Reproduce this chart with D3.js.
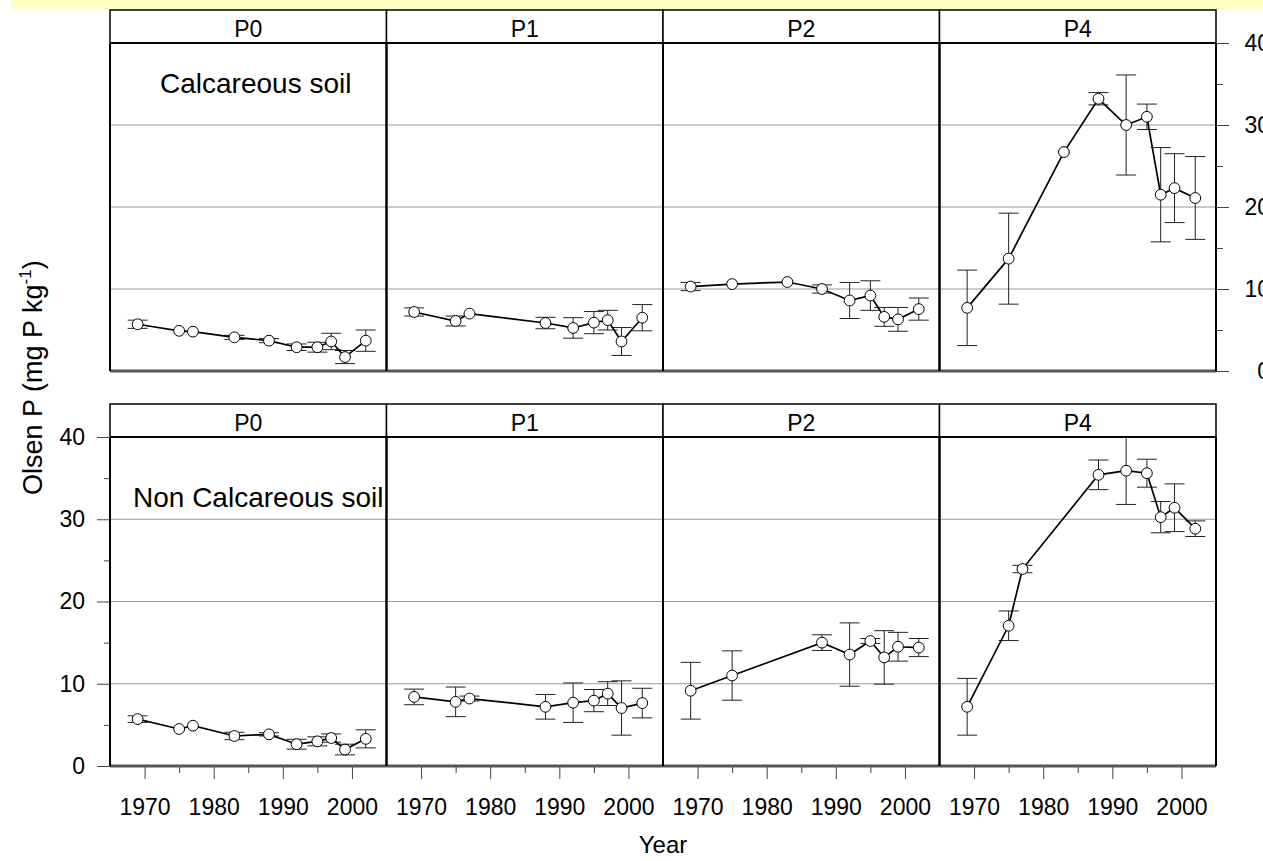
<!DOCTYPE html>
<html>
<head>
<meta charset="utf-8">
<script src="https://cdn.jsdelivr.net/npm/d3@7"></script>
<style>
  html, body { margin: 0; padding: 0; background: #fff; }
  svg { display: block; font-family: "Liberation Sans", Arial, sans-serif; }
</style>
</head>
<body>
<svg id="chart" width="1263" height="861"></svg>
<script>
// Olsen P over time, by P treatment and soil type
const soils = ["Calcareous soil", "Non Calcareous soil"];
const treatments = ["P0", "P1", "P2", "P4"];
const yTicks = [0, 10, 20, 30, 40];
const yMinorTicks = [5, 15, 25, 35];
const xTicks = [1970, 1980, 1990, 2000];
const xMinorTicks = [1975, 1985, 1995];

// Calcareous soil
const calcP0Years = [1969, 1975, 1977, 1983, 1988, 1992, 1995, 1997, 1999, 2002];
const calcP0Mean  = [5.7, 4.9, 4.8, 4.1, 3.7, 2.9, 2.9, 3.6, 1.7, 3.7];
const calcP0Err   = [0.5, 0, 0, 0.25, 0.25, 0.4, 0.6, 1.0, 0.8, 1.3];

const calcP1Years = [1969, 1975, 1977, 1988, 1992, 1995, 1997, 1999, 2002];
const calcP1Mean  = [7.2, 6.1, 7.0, 5.85, 5.25, 5.9, 6.2, 3.6, 6.5];
const calcP1Err   = [0.5, 0.6, 0, 0.7, 1.25, 1.35, 1.2, 1.7, 1.6];

const calcP2Years = [1969, 1975, 1983, 1988, 1992, 1995, 1997, 1999, 2002];
const calcP2Mean  = [10.3, 10.6, 10.85, 10.0, 8.6, 9.2, 6.6, 6.3, 7.55];
const calcP2Err   = [0.5, 0, 0, 0.5, 2.2, 1.8, 1.15, 1.45, 1.35];

const calcP4Years = [1969, 1975, 1983, 1988, 1992, 1995, 1997, 1999, 2002];
const calcP4Mean  = [7.7, 13.7, 26.7, 33.2, 30.0, 31.0, 21.5, 22.3, 21.1];
const calcP4Err   = [4.6, 5.55, 0, 0.75, 6.1, 1.55, 5.75, 4.2, 5.05];

// Non calcareous soil
const nonP0Years = [1969, 1975, 1977, 1983, 1988, 1992, 1995, 1997, 1999, 2002];
const nonP0Mean  = [5.7, 4.5, 4.9, 3.65, 3.85, 2.65, 3.0, 3.4, 2.0, 3.3];
const nonP0Err   = [0.4, 0, 0, 0.45, 0.2, 0.6, 0.55, 0.5, 0.65, 1.1];

const nonP1Years = [1969, 1975, 1977, 1988, 1992, 1995, 1997, 1999, 2002];
const nonP1Mean  = [8.4, 7.8, 8.2, 7.2, 7.7, 7.95, 8.8, 7.05, 7.65];
const nonP1Err   = [0.95, 1.8, 0.3, 1.5, 2.4, 1.35, 1.45, 3.3, 1.8];

const nonP2Years = [1969, 1975, 1988, 1992, 1995, 1997, 1999, 2002];
const nonP2Mean  = [9.15, 11.0, 15.0, 13.55, 15.2, 13.2, 14.5, 14.4];
const nonP2Err   = [3.45, 3.0, 0.95, 3.85, 0.3, 3.25, 1.75, 1.1];

const nonP4Years = [1969, 1975, 1977, 1988, 1992, 1995, 1997, 1999, 2002];
const nonP4Mean  = [7.2, 17.05, 23.95, 35.4, 35.9, 35.6, 30.25, 31.4, 28.85];
const nonP4Err   = [3.45, 1.8, 0.45, 1.8, 4.1, 1.7, 1.9, 2.9, 0.95];

const panels = [
  [[calcP0Years, calcP0Mean, calcP0Err], [calcP1Years, calcP1Mean, calcP1Err],
   [calcP2Years, calcP2Mean, calcP2Err], [calcP4Years, calcP4Mean, calcP4Err]],
  [[nonP0Years, nonP0Mean, nonP0Err], [nonP1Years, nonP1Mean, nonP1Err],
   [nonP2Years, nonP2Mean, nonP2Err], [nonP4Years, nonP4Mean, nonP4Err]]
];

// ---- layout ----
const FONT = "Liberation Sans, Arial, sans-serif";
const svg = d3.select("#chart");
const left = 110, colW = 276.5;
const rows = [
  { stripTop: 10,  plotTop: 43,  plotBottom: 371, labelY: 93,  labelX: 160 },
  { stripTop: 404, plotTop: 437, plotBottom: 766, labelY: 507, labelX: 133 }
];
const right = left + colW * treatments.length;

// highlight band along the top edge
svg.append("rect").attr("x", 11).attr("y", 0).attr("width", 1263 - 11).attr("height", 10)
  .attr("fill", "#ffffc0");

const xScales = treatments.map((t, i) =>
  d3.scaleLinear().domain([1965, 2005]).range([left + i * colW, left + (i + 1) * colW]));

const defs = svg.append("defs");

rows.forEach((row, r) => {
  const y = d3.scaleLinear().domain([0, 40]).range([row.plotBottom, row.plotTop]);
  const g = svg.append("g");

  treatments.forEach((t, c) => {
    const x = xScales[c];
    const x0 = x.range()[0], x1 = x.range()[1];
    const clipId = `clip-${r}-${c}`;
    defs.append("clipPath").attr("id", clipId).append("rect")
      .attr("x", x0).attr("y", row.plotTop).attr("width", x1 - x0).attr("height", row.plotBottom - row.plotTop);

    // grid lines
    g.append("g").selectAll("line").data(yTicks.filter(v => v > 0 && v < 40)).join("line")
      .attr("x1", x0).attr("x2", x1).attr("y1", d => y(d)).attr("y2", d => y(d))
      .attr("stroke", "#9a9a9a").attr("stroke-width", 1);

    // strip
    g.append("rect").attr("x", x0).attr("y", row.stripTop).attr("width", x1 - x0)
      .attr("height", row.plotTop - row.stripTop).attr("fill", "#fff")
      .attr("stroke", "#000").attr("stroke-width", 1.5);
    g.append("text").attr("x", (x0 + x1) / 2).attr("y", row.plotTop - 6)
      .attr("text-anchor", "middle").attr("font-size", 23).text(t);

    // series
    const [yrs, mean, err] = panels[r][c];
    const pts = yrs.map((yr, i) => ({ yr, m: mean[i], e: err[i] }));
    const pg = g.append("g").attr("clip-path", `url(#${clipId})`);
    const bars = pts.filter(d => d.e > 0);
    pg.selectAll("line.eb").data(bars).join("line").attr("class", "eb")
      .attr("x1", d => x(d.yr)).attr("x2", d => x(d.yr))
      .attr("y1", d => y(d.m - d.e)).attr("y2", d => y(d.m + d.e))
      .attr("stroke", "#222").attr("stroke-width", 1);
    ["lo", "hi"].forEach(k => {
      pg.selectAll(`line.cap-${k}`).data(bars).join("line").attr("class", `cap-${k}`)
        .attr("x1", d => x(d.yr) - 10).attr("x2", d => x(d.yr) + 10)
        .attr("y1", d => y(k === "lo" ? d.m - d.e : d.m + d.e))
        .attr("y2", d => y(k === "lo" ? d.m - d.e : d.m + d.e))
        .attr("stroke", "#222").attr("stroke-width", 1);
    });
    pg.append("path").datum(pts)
      .attr("d", d3.line().x(d => x(d.yr)).y(d => y(d.m)))
      .attr("fill", "none").attr("stroke", "#000").attr("stroke-width", 1.7);
    pg.selectAll("circle").data(pts).join("circle")
      .attr("cx", d => x(d.yr)).attr("cy", d => y(d.m)).attr("r", 5.4)
      .attr("fill", "#fff").attr("stroke", "#000").attr("stroke-width", 1);

    // panel frame
    g.append("line").attr("x1", x0).attr("x2", x1).attr("y1", row.plotBottom).attr("y2", row.plotBottom)
      .attr("stroke", "#555").attr("stroke-width", 3);
    g.append("line").attr("x1", x0).attr("x2", x0).attr("y1", row.plotTop).attr("y2", row.plotBottom)
      .attr("stroke", "#000").attr("stroke-width", 2);
    g.append("line").attr("x1", x1).attr("x2", x1).attr("y1", row.plotTop).attr("y2", row.plotBottom)
      .attr("stroke", "#000").attr("stroke-width", 2);
    g.append("line").attr("x1", x0).attr("x2", x1).attr("y1", row.plotTop).attr("y2", row.plotTop)
      .attr("stroke", "#000").attr("stroke-width", 2);

    // bottom axes on the lower row
    if (r === 1) {
      const ax = g.append("g").attr("transform", `translate(0,${row.plotBottom + 1})`);
      ax.call(d3.axisBottom(x).tickValues(xTicks).tickSize(12).tickPadding(20).tickFormat(d3.format("d")))
        .call(s => s.select(".domain").remove())
        .call(s => s.selectAll("line").attr("stroke", "#444"))
        .call(s => s.selectAll("text").attr("font-size", 23).attr("font-family", FONT).attr("fill", "#000"));
      const axm = g.append("g").attr("transform", `translate(0,${row.plotBottom + 1})`);
      axm.call(d3.axisBottom(x).tickValues(xMinorTicks).tickSize(6).tickFormat(""))
        .call(s => s.select(".domain").remove())
        .call(s => s.selectAll("line").attr("stroke", "#444"));
    }
  });

  // soil label
  g.append("text").attr("x", row.labelX).attr("y", row.labelY)
    .attr("font-size", 28).text(soils[r]);

  // y axes: right side on the upper row, left side on the lower row
  if (r === 0) {
    const ax = g.append("g").attr("transform", `translate(${right},0)`);
    ax.call(d3.axisRight(y).tickValues(yTicks).tickSize(13).tickPadding(0))
      .call(s => s.select(".domain").remove())
      .call(s => s.selectAll("line").attr("stroke", "#444"))
      .call(s => s.selectAll("text").attr("font-size", 23).attr("text-anchor", "end").attr("x", 54)
        .attr("font-family", FONT).attr("fill", "#000"));
    const axm = g.append("g").attr("transform", `translate(${right},0)`);
    axm.call(d3.axisRight(y).tickValues(yMinorTicks).tickSize(7).tickFormat(""))
      .call(s => s.select(".domain").remove())
      .call(s => s.selectAll("line").attr("stroke", "#444"));
  } else {
    const ax = g.append("g").attr("transform", `translate(${left},0)`);
    ax.call(d3.axisLeft(y).tickValues(yTicks).tickSize(13).tickPadding(12))
      .call(s => s.select(".domain").remove())
      .call(s => s.selectAll("line").attr("stroke", "#444"))
      .call(s => s.selectAll("text").attr("font-size", 23)
        .attr("font-family", FONT).attr("fill", "#000"));
    const axm = g.append("g").attr("transform", `translate(${left},0)`);
    axm.call(d3.axisLeft(y).tickValues(yMinorTicks).tickSize(6).tickFormat(""))
      .call(s => s.select(".domain").remove())
      .call(s => s.selectAll("line").attr("stroke", "#444"));
  }
});

// axis titles
svg.append("text").attr("x", (left + right) / 2).attr("y", 853)
  .attr("text-anchor", "middle").attr("font-size", 24).text("Year");

const yTitle = svg.append("text").attr("transform", "translate(42,495) rotate(-90)")
  .attr("text-anchor", "start").attr("font-size", 27);
yTitle.append("tspan").text("Olsen P (mg P kg");
yTitle.append("tspan").attr("font-size", 17).attr("dy", -11).text("-1");
yTitle.append("tspan").attr("dy", 11).text(")");
</script>
</body>
</html>
